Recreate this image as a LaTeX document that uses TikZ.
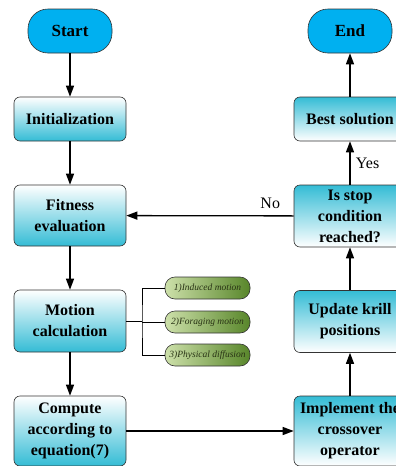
\documentclass[tikz,border=0pt]{standalone}
\usepackage{fontspec}
\setmainfont{Liberation Serif}
\usetikzlibrary{arrows.meta}
\definecolor{krillblue}{RGB}{0,176,240}
\definecolor{krillcyan}{RGB}{52,188,213}
\definecolor{pilllight}{RGB}{205,224,170}
\definecolor{pilldark}{RGB}{88,134,42}
\definecolor{pilltext}{RGB}{40,50,20}

\begin{document}
\begin{tikzpicture}[x=1pt,y=-1pt,>={Triangle[length=11pt,width=8pt]},line width=1.3pt]

%
% Styles
%
\tikzstyle{terminal} = [rectangle,rounded corners=20pt,draw=black!80,line width=0.6pt,fill=krillblue,
  minimum width=84pt,minimum height=44pt,font=\fontsize{17}{20}\selectfont\bfseries]
\tikzstyle{downbox} = [rectangle,rounded corners=6pt,draw=black!80,line width=0.6pt,top color=white,bottom color=krillcyan,
  minimum width=112pt,minimum height=44pt,align=center,inner sep=1pt,font=\fontsize{16}{21}\selectfont\bfseries]
\tikzstyle{upbox} = [downbox,top color=krillcyan,bottom color=white]
\tikzstyle{pill} = [rectangle,rounded corners=10pt,draw=black!80,line width=0.6pt,left color=pilllight,right color=pilldark,
  minimum width=85pt,minimum height=22pt,inner sep=1pt,text=pilltext,font=\fontsize{9.5}{10}\selectfont\itshape]
\tikzstyle{branch} = [line width=0.7pt]

\useasboundingbox (0,0) rectangle (396,466);
\clip (0,0) rectangle (396,466);

\node[terminal] (start) at ( 70, 31) {Start};
\node[downbox] (init)   at ( 70,119) {Initialization};
\node[downbox,minimum height=61pt] (fit)    at ( 70,215.5) {Fitness\\evaluation};
\node[downbox,minimum height=62pt] (motion) at ( 70,321) {Motion\\calculation};
\node[downbox,minimum height=70pt] (comp)   at ( 70,431) {Compute\\according to\\equation(7)};

\node[terminal] (end)  at (350, 31) {End};
\node[upbox] (best)    at (350,119) {Best solution};
\node[upbox,minimum height=62pt] (stop)   at (350,216) {Is stop\\condition\\reached?};
\node[upbox,minimum height=62pt] (update) at (350,321.5) {Update krill\\positions};
\node[upbox,minimum height=70pt] (cross)  at (350,431) {Implement the\\crossover\\operator};

\node[pill] (induced)  at (207.5,288) {1)Induced motion};
\node[pill] (foraging) at (207.5,322) {2)Foraging motion};
\node[pill] (physical) at (207.5,355) {3)Physical diffusion};
\coordinate (fork) at (142,321);

\draw[->] (start) -- (init);
\draw[->] (init) -- (fit);
\draw[->] (fit) -- (motion);
\draw[->] (motion) -- (comp);
\draw[->] (comp) -- (cross);
\draw[->] (cross) -- (update);
\draw[->] (update) -- (stop);
\draw[->] (stop) -- node[right=2pt,font=\fontsize{16}{18}\selectfont] {Yes} (best);
\draw[->] (best) -- (end);
\draw[->] (stop) -- node[pos=0.14,above=3pt,font=\fontsize{16}{18}\selectfont] {No} (fit);

\draw[branch] (motion.east) -- (fork |- motion.east);
\draw[branch] (induced.west) -| (fork) |- (physical.west);
\draw[branch] (fork |- foraging.west) -- (foraging.west);

\end{tikzpicture}
\end{document}
